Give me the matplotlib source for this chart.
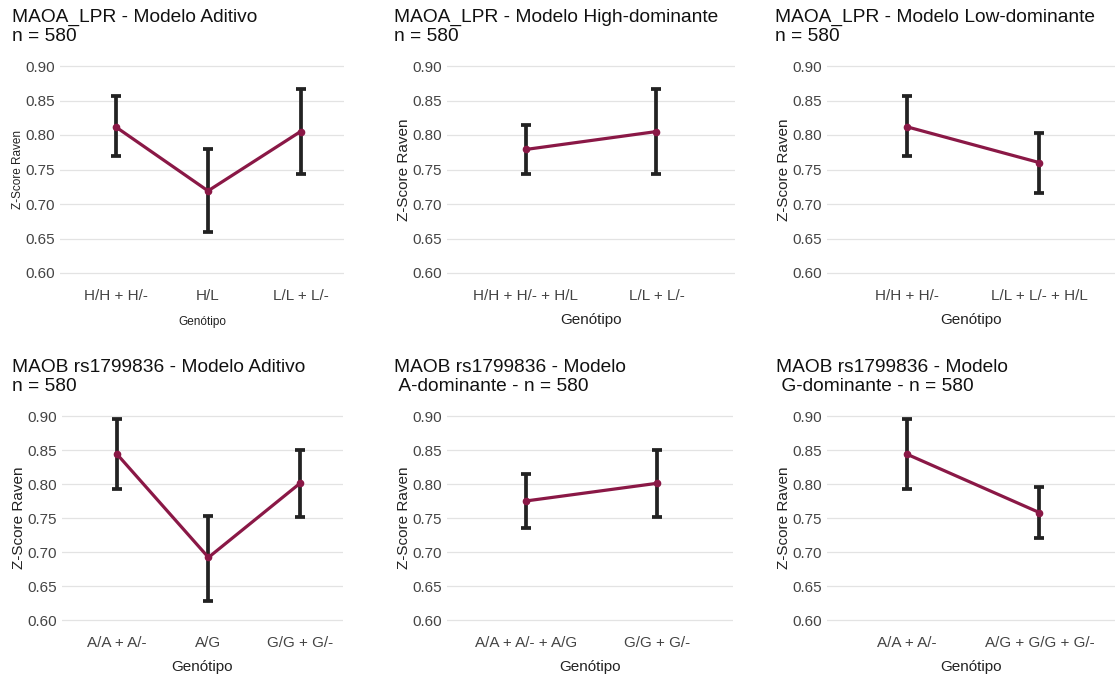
import matplotlib
matplotlib.use('Agg')
import matplotlib.pyplot as plt

plt.rcParams['font.family'] = ['Liberation Sans', 'DejaVu Sans']

# ---- data ----
maoa_aditivo_cats = ['H/H + H/-', 'H/L', 'L/L + L/-']
maoa_aditivo_mean = [0.812, 0.719, 0.805]
maoa_aditivo_low = [0.769, 0.659, 0.744]
maoa_aditivo_high = [0.857, 0.780, 0.866]

maoa_high_cats = ['H/H + H/- + H/L', 'L/L + L/-']
maoa_high_mean = [0.779, 0.805]
maoa_high_low = [0.743, 0.744]
maoa_high_high = [0.814, 0.866]

maoa_low_cats = ['H/H + H/-', 'L/L + L/- + H/L']
maoa_low_mean = [0.812, 0.760]
maoa_low_low = [0.769, 0.716]
maoa_low_high = [0.857, 0.803]

maob_aditivo_cats = ['A/A + A/-', 'A/G', 'G/G + G/-']
maob_aditivo_mean = [0.844, 0.692, 0.801]
maob_aditivo_low = [0.793, 0.628, 0.752]
maob_aditivo_high = [0.896, 0.753, 0.850]

maob_a_cats = ['A/A + A/- + A/G', 'G/G + G/-']
maob_a_mean = [0.775, 0.801]
maob_a_low = [0.735, 0.752]
maob_a_high = [0.814, 0.850]

maob_g_cats = ['A/A + A/-', 'A/G + G/G + G/-']
maob_g_mean = [0.844, 0.758]
maob_g_low = [0.793, 0.720]
maob_g_high = [0.896, 0.796]

titles = [
    'MAOA_LPR - Modelo Aditivo\nn = 580',
    'MAOA_LPR - Modelo High-dominante\nn = 580',
    'MAOA_LPR - Modelo Low-dominante\nn = 580',
    'MAOB rs1799836 - Modelo Aditivo\nn = 580',
    'MAOB rs1799836 - Modelo\n A-dominante - n = 580',
    'MAOB rs1799836 - Modelo\n G-dominante - n = 580',
]

W, H = 1115, 680
LINE_COLOR = '#8a1846'
BAR_COLOR = '#222222'

fig = plt.figure(figsize=(W / 100, H / 100), dpi=100)


def make_panel(px_left, px_right, px_top, px_bottom, xlim, cats, mean, low, high,
               title, title_x, title_y, small_labels=False):
    ax = fig.add_axes([px_left / W, 1 - px_bottom / H,
                       (px_right - px_left) / W, (px_bottom - px_top) / H])
    x = list(range(len(cats)))
    yerr = [[m - l for m, l in zip(mean, low)], [h - m for m, h in zip(mean, high)]]
    ax.errorbar(x, mean, yerr=yerr, fmt='none', ecolor=BAR_COLOR,
                elinewidth=2.7, capsize=3.6, capthick=2.7, zorder=2)
    ax.plot(x, mean, color=LINE_COLOR, lw=2.3, marker='o', ms=4.5, zorder=3)

    span = px_bottom - px_top
    pad = 0.3 * 8 / (span - 16)
    ax.set_ylim(0.6 - pad, 0.9 + pad)
    ax.set_yticks([0.60, 0.65, 0.70, 0.75, 0.80, 0.85, 0.90])
    ax.set_yticklabels(['0.60', '0.65', '0.70', '0.75', '0.80', '0.85', '0.90'])
    ax.set_xlim(*xlim)
    ax.set_xticks(x)
    ax.set_xticklabels(cats)

    ax.grid(axis='y', color='#e3e3e3', lw=0.9)
    ax.set_axisbelow(True)
    for s in ax.spines.values():
        s.set_visible(False)
    ax.tick_params(axis='y', length=0, pad=3.5, labelsize=11, labelcolor='#444444')
    ax.tick_params(axis='x', length=0, pad=6, labelsize=11, labelcolor='#444444')

    lab_size = 8.5 if small_labels else 11
    ax.set_xlabel('Genótipo', fontsize=lab_size, color='#222222', labelpad=9 if small_labels else 7)
    ax.set_ylabel('Z-Score Raven', fontsize=lab_size, color='#222222', labelpad=1)

    fig.text(title_x / W, 1 - title_y / H, title, fontsize=13.8, color='#111111',
             ha='left', va='top', linespacing=1.12)
    return ax


make_panel(60, 344, 58, 281, (-0.6, 2.47), maoa_aditivo_cats, maoa_aditivo_mean,
           maoa_aditivo_low, maoa_aditivo_high, titles[0], 12, 9, small_labels=True)
make_panel(447, 735, 58, 281, (-0.6, 1.6), maoa_high_cats, maoa_high_mean,
           maoa_high_low, maoa_high_high, titles[1], 394, 9)
make_panel(827, 1115, 58, 281, (-0.6, 1.57), maoa_low_cats, maoa_low_mean,
           maoa_low_low, maoa_low_high, titles[2], 775, 9)

make_panel(62, 343, 408, 628, (-0.6, 2.47), maob_aditivo_cats, maob_aditivo_mean,
           maob_aditivo_low, maob_aditivo_high, titles[3], 12, 359)
make_panel(447, 733, 408, 628, (-0.6, 1.58), maob_a_cats, maob_a_mean,
           maob_a_low, maob_a_high, titles[4], 394, 359)
make_panel(827, 1115, 408, 628, (-0.6, 1.57), maob_g_cats, maob_g_mean,
           maob_g_low, maob_g_high, titles[5], 776, 359)

fig.savefig('out.png', dpi=100, facecolor='white')
